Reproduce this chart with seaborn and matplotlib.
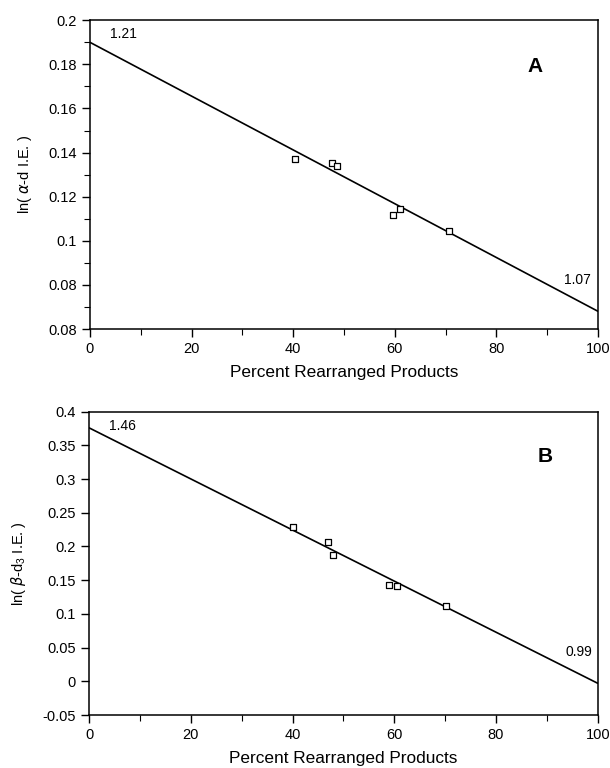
import numpy as np
import pandas as pd
import matplotlib
matplotlib.use("Agg")
import matplotlib.pyplot as plt
import seaborn as sns

# Panel A: alpha-d isotope effects
pct_a = [40.4, 47.6, 48.6, 59.7, 61.0, 70.7]
ln_ie_a = [0.137, 0.1353, 0.1341, 0.1116, 0.1142, 0.1045]
fit_x_a = [0, 100]
fit_y_a = [0.190, 0.068]
yticks_a = [0.06, 0.08, 0.10, 0.12, 0.14, 0.16, 0.18, 0.20]
ytick_labels_a = ["0.08", "0.08", "0.1", "0.12", "0.14", "0.16", "0.18", "0.2"]

# Panel B: beta-d3 isotope effects
pct_b = [40.1, 47.0, 48.0, 59.0, 60.5, 70.2]
ln_ie_b = [0.229, 0.206, 0.187, 0.143, 0.142, 0.112]
fit_x_b = [0, 100]
fit_y_b = [0.376, -0.003]
yticks_b = [-0.05, 0, 0.05, 0.1, 0.15, 0.2, 0.25, 0.3, 0.35, 0.4]
ytick_labels_b = ["-0.05", "0", "0.05", "0.1", "0.15", "0.2", "0.25", "0.3", "0.35", "0.4"]

xticks = [0, 20, 40, 60, 80, 100]

sns.set_theme(style="ticks")
plt.rcParams['font.family'] = ['Liberation Sans', 'DejaVu Sans']
plt.rcParams['mathtext.default'] = 'regular'
plt.rcParams['text.color'] = 'black'
plt.rcParams['axes.labelcolor'] = 'black'

fig = plt.figure(figsize=(6.1, 7.68), dpi=100)
ax_a = fig.add_axes([0.1475, 0.5716, 0.833, 0.402])
ax_b = fig.add_axes([0.146, 0.069, 0.834, 0.395])


def draw_panel(ax, px, py, fx, fy, yt, ytl, ylim, ylabel, letter, letter_xy,
               lab0, lab0_xy, lab1, lab1_xy, yminor):
    sns.lineplot(x=fx, y=fy, ax=ax, color="black", linewidth=1.2)
    sns.scatterplot(x=px, y=py, ax=ax, marker="s", s=24, facecolor="white",
                    edgecolor="black", linewidth=0.9, zorder=3)
    ax.set_xlim(0, 100)
    ax.set_ylim(*ylim)
    ax.set_xticks(xticks)
    ax.set_xticks([10, 30, 50, 70, 90], minor=True)
    ax.set_yticks(yt)
    ax.set_yticklabels(ytl)
    if yminor:
        ax.set_yticks(yminor, minor=True)
    ax.tick_params(axis="both", which="major", direction="out", length=6,
                   width=1, labelsize=10.5, colors="black")
    ax.tick_params(axis="both", which="minor", direction="out", length=4,
                   width=0.8, colors="black")
    for sp in ax.spines.values():
        sp.set_visible(True)
        sp.set_color("black")
        sp.set_linewidth(1.1)
    ax.set_xlabel("Percent Rearranged Products", fontsize=12.4, labelpad=6)
    ax.set_ylabel(ylabel, fontsize=10.5, labelpad=10)
    ax.text(*letter_xy, letter, fontsize=15, fontweight="bold", ha="center",
            va="center", color="black")
    ax.text(*lab0_xy, lab0, fontsize=10, ha="center", va="center", color="black")
    ax.text(*lab1_xy, lab1, fontsize=10, ha="center", va="center", color="black")


draw_panel(ax_a, pct_a, ln_ie_a, fit_x_a, fit_y_a, yticks_a, ytick_labels_a,
           (0.06, 0.20), "ln( $\\mathit{\\alpha}$-d I.E. )", "A", (87.6, 0.179),
           "1.21", (6.5, 0.194), "1.07", (96, 0.0822),
           [0.07, 0.09, 0.11, 0.13, 0.15, 0.17, 0.19])
draw_panel(ax_b, pct_b, ln_ie_b, fit_x_b, fit_y_b, yticks_b, ytick_labels_b,
           (-0.05, 0.40), "ln( $\\mathit{\\beta}$-d$_3$ I.E. )", "B", (89.7, 0.333),
           "1.46", (6.6, 0.379), "0.99", (96.2, 0.044), None)

fig.savefig("out.png", dpi=100)
